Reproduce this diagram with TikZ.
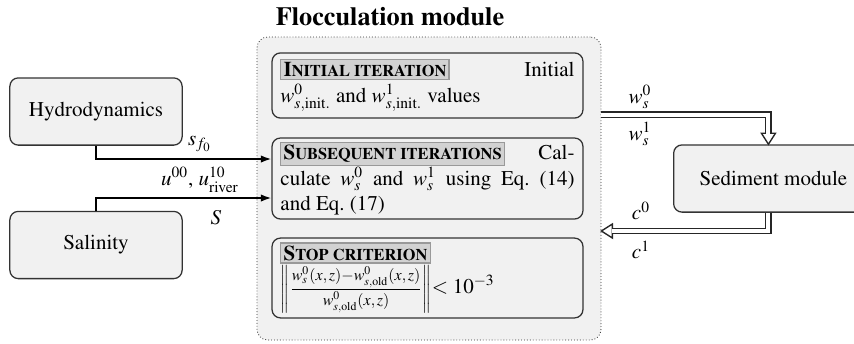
\documentclass[tikz,border=0pt]{standalone}
\usepackage[T1]{fontenc}
\usepackage{mathptmx}
\usetikzlibrary{arrows.meta,positioning,calc}
\definecolor{panel}{HTML}{F1F1F1}
\definecolor{edge}{HTML}{333333}
\newcommand\stagehead[2]{{\setlength\fboxsep{1pt}\setlength\fboxrule{0.5pt}%
  \fcolorbox{gray!80}{gray!35}{\bfseries #1\fontsize{7.8}{9}\selectfont #2}}}

\begin{document}
\begin{tikzpicture}[x=0.476pt,y=-0.476pt,
  box/.style={draw=edge,semithick,fill=panel,rounded corners=4pt,minimum width=82pt,minimum height=32pt},
  stage/.style={draw=edge,semithick,fill=panel,rounded corners=4pt,text width=140pt,inner xsep=4pt,inner ysep=2pt,align=justify},
  feed/.style={thick,-{Latex[length=5pt,width=3.5pt]}},
  link/.style={draw=black!85,double,double distance=1.9pt,line width=0.65pt},
  head/.style={draw=black!85,fill=white,line width=0.65pt,line join=miter},
  lbl/.style={inner sep=1pt}]
  \useasboundingbox (0,0) rectangle (854,343);

  \node[font=\bfseries\fontsize{12.5}{14}\selectfont] (title) at (390,17) {Flocculation module};
  \node[draw=edge,densely dotted,fill=panel,rounded corners=5pt,minimum width=163.7pt,minimum height=144.2pt] (floc) at (429,188.5) {};

  % stages of the flocculation module
  \node[stage,minimum height=31pt] (init) at (427.5,85.5)
    {\stagehead{I}{NITIAL ITERATION} Initial\linebreak $w^0_{s,\mathrm{init.}}$ and $w^1_{s,\mathrm{init.}}$ values};
  \node[stage,minimum height=36.7pt] (iter) at (427.5,178.5)
    {\stagehead{S}{UBSEQUENT ITERATIONS} Cal-\linebreak culate $w^0_s$ and $w^1_s$ using Eq.\ (14)\linebreak and Eq.\ (17)};
  \node[stage,minimum height=38pt] (stop) at (427.5,278)
    {\stagehead{S}{TOP CRITERION}\\ {\fontsize{7.6}{9}\selectfont$\displaystyle\left\|\frac{w^0_s(x,z){-}w^0_{s,\mathrm{old}}(x,z)}{w^0_{s,\mathrm{old}}(x,z)}\right\|$}$< 10^{-3}$};

  % other modules
  \node[box] (hydro) at (96,111.5) {Hydrodynamics};
  \node[box] (salt) at (96,245) {Salinity};
  \node[box,anchor=west,minimum width=95pt] (sed) at (673,178.5) {Sediment module};

  \draw[feed] (hydro.south) |- ($(iter.west)+(0,-19.5)$);
  \draw[feed] (salt.north) |- ($(iter.west)+(0,19.5)$);
  \node[lbl] (sf) at (200,144) {$s_{f_0}$};
  \node[lbl] (uu) at (200,180) {$u^{00}$, $u^{10}_{\mathrm{river}}$};
  \node[lbl] (ss) at (216,218) {$S$};

  % double arrows to and from the sediment module
  \coordinate (down) at ($(sed.north)+(-5,0)$);
  \coordinate (back) at (floc.east |- 0,231);
  \filldraw[head] (down) -- ++(-7,-11) -- ++(14,0) -- cycle;
  \draw[link] (floc.east |- 0,114.5) -| ($(down)+(0,-10.5)$);
  \filldraw[head] (back) -- ++(11,-7) -- ++(0,14) -- cycle;
  \draw[link] ($(sed.south)+(-5,0)$) |- ($(back)+(10.5,0)$);
  \node[lbl] (w0) at (640,97) {$w^0_s$};
  \node[lbl] (w1) at (640,134) {$w^1_s$};
  \node[lbl] (c0) at (641,211) {$c^0$};
  \node[lbl] (c1) at (641,250) {$c^1$};
\end{tikzpicture}
\end{document}
